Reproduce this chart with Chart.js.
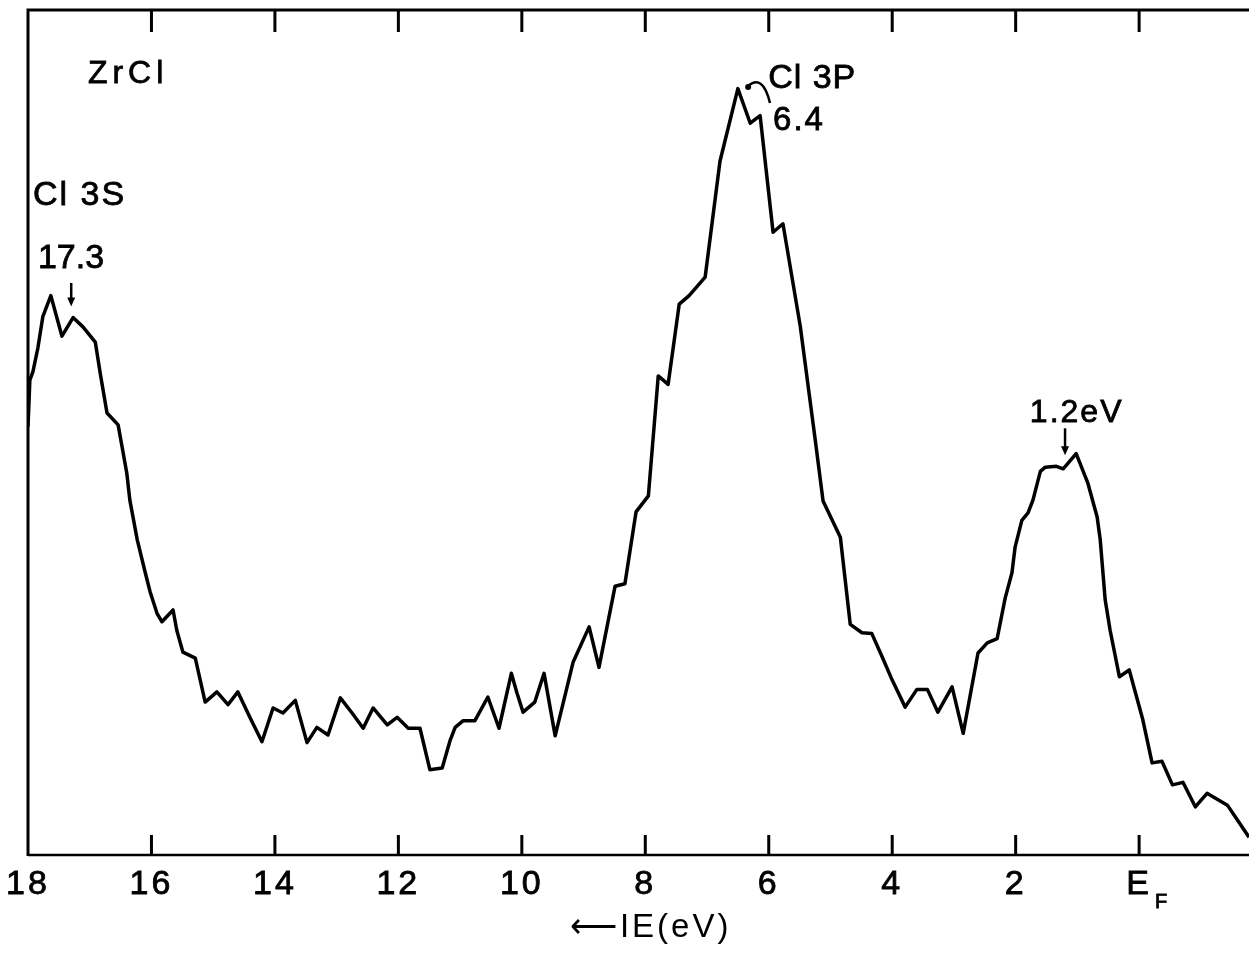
<!DOCTYPE html>
<html>
<head>
<meta charset="utf-8">
<script src="https://cdn.jsdelivr.net/npm/chart.js@4.4.0/dist/chart.umd.min.js"></script>
<style>
html,body{margin:0;padding:0;background:#fff;}
canvas{display:block;}
</style>
</head>
<body>
<canvas id="c" width="1249" height="955"></canvas>
<script>
// ---- data ----
const energyEV = [
  18.0, 17.97, 17.92, 17.84, 17.76, 17.63, 17.45, 17.27, 17.11, 16.91,
  16.83, 16.72, 16.54, 16.40, 16.35, 16.23, 16.10, 16.02, 15.91, 15.83,
  15.65, 15.59, 15.49, 15.29, 15.13, 14.94, 14.76, 14.60, 14.40, 14.21,
  14.03, 13.87, 13.67, 13.48, 13.32, 13.14, 12.94, 12.75, 12.57, 12.41,
  12.18, 12.02, 11.84, 11.65, 11.49, 11.29, 11.16, 11.08, 10.95, 10.76,
  10.55, 10.37, 10.17, 10.08, 9.98, 9.79, 9.64, 9.46, 9.17, 8.91,
  8.75, 8.49, 8.33, 8.15, 7.95, 7.79, 7.63, 7.45, 7.29, 7.03,
  6.79, 6.50, 6.30, 6.14, 5.93, 5.77, 5.49, 5.25, 5.12, 4.84,
  4.68, 4.49, 4.33, 4.16, 4.00, 3.79, 3.60, 3.43, 3.26, 3.03,
  2.85, 2.61, 2.46, 2.30, 2.17, 2.06, 2.01, 1.90, 1.80, 1.72,
  1.60, 1.52, 1.34, 1.23, 1.02, 0.83, 0.68, 0.63, 0.55, 0.47,
  0.32, 0.16, -0.06, -0.21, -0.37, -0.54, -0.71, -0.91, -1.10, -1.43, -1.78
];
const intensity = [
  50.7, 56.2, 57.2, 60.0, 63.7, 66.2, 61.4, 63.6, 62.5, 60.7,
  57.0, 52.3, 50.9, 45.2, 42.0, 37.3, 33.4, 31.1, 28.6, 27.6,
  29.0, 26.6, 24.0, 23.3, 18.1, 19.3, 17.8, 19.3, 16.2, 13.4,
  17.4, 16.8, 18.3, 13.3, 15.1, 14.2, 18.6, 16.8, 15.0, 17.4,
  15.4, 16.3, 15.0, 15.0, 10.1, 10.3, 13.6, 15.1, 15.9, 15.9,
  18.7, 15.0, 21.5, 19.2, 16.9, 18.1, 21.5, 14.1, 22.8, 27.0,
  22.2, 31.8, 32.1, 40.6, 42.5, 56.7, 55.7, 65.2, 66.2, 68.4,
  82.1, 90.7, 86.6, 87.5, 73.7, 74.7, 62.6, 49.3, 41.9, 37.6,
  27.3, 26.3, 26.2, 23.4, 20.7, 17.5, 19.6, 19.6, 16.9, 19.9,
  14.4, 23.9, 25.1, 25.6, 30.4, 33.4, 36.4, 39.6, 40.5, 42.0,
  45.4, 45.9, 46.0, 45.7, 47.5, 44.0, 40.0, 37.3, 30.2, 26.6,
  21.1, 21.9, 16.0, 10.9, 11.1, 8.3, 8.6, 5.7, 7.3, 5.9, 2.1
];
const tickValues = [0, 2, 4, 6, 8, 10, 12, 14, 16, 18];
const tickLabels = ['E', '2', '4', '6', '8', '10', '12', '14', '16', '18'];
const axisTitle = '  \u27F5IE(eV)';
const peakLabels = ['ZrCl', 'Cl 3S', '17.3', 'Cl 3P', '6.4', '1.2eV'];

// ---- annotation placement (data coordinates) ----
const textPlacement = [
  {e: 17.03, v: 91.4, size: 32, spacing: 5},
  {e: 17.92, v: 76.9, size: 34, spacing: 2},
  {e: 17.84, v: 69.5, size: 34, spacing: 0},
  {e: 6.01, v: 90.8, size: 34, spacing: 1},
  {e: 5.93, v: 85.8, size: 33, spacing: 2},
  {e: 1.77, v: 51.2, size: 32, spacing: 2}
];
const arrows = [
  {e: 17.3, from: 67.7, to: 64.9},
  {e: 1.2, from: 50.5, to: 47.3}
];

const points = energyEV.map((e, i) => ({x: e, y: intensity[i]}));
const FONT = '"Liberation Sans", Arial, sans-serif';

const spacingPlugin = {
  id: 'spacing',
  beforeDraw(chart) { chart.ctx.letterSpacing = '3px'; },
  beforeDatasetsDraw(chart) { chart.ctx.letterSpacing = '0px'; }
};

const framePlugin = {
  id: 'frame',
  afterDraw(chart) {
    const {ctx, chartArea: {left, right, top, bottom}, scales: {x, y}} = chart;
    ctx.save();
    ctx.strokeStyle = '#000';
    ctx.fillStyle = '#000';
    ctx.lineCap = 'butt';
    // frame
    ctx.lineWidth = 3;
    ctx.beginPath();
    ctx.moveTo(left, bottom + 1);
    ctx.lineTo(left, top);
    ctx.lineTo(right, top);
    ctx.stroke();
    ctx.lineWidth = 2.5;
    ctx.beginPath();
    ctx.moveTo(left, bottom);
    ctx.lineTo(right, bottom);
    ctx.stroke();
    // inward ticks
    ctx.lineWidth = 3;
    tickValues.forEach(v => {
      const px = x.getPixelForValue(v);
      if (Math.abs(px - left) < 3) return;
      ctx.beginPath();
      ctx.moveTo(px, top); ctx.lineTo(px, top + 22);
      ctx.moveTo(px, bottom); ctx.lineTo(px, bottom - 20);
      ctx.stroke();
    });
    // subscript F of E_F
    const ef = x.getPixelForValue(0);
    ctx.font = '20px ' + FONT;
    ctx.textAlign = 'left';
    ctx.textBaseline = 'alphabetic';
    ctx.lineWidth = 0.8;
    ctx.fillText('F', ef + 16, bottom + 53);
    ctx.strokeText('F', ef + 16, bottom + 53);
    // peak labels
    peakLabels.forEach((t, i) => {
      const p = textPlacement[i];
      ctx.font = p.size + 'px ' + FONT;
      ctx.letterSpacing = p.spacing + 'px';
      const px = x.getPixelForValue(p.e), py = y.getPixelForValue(p.v);
      ctx.fillText(t, px, py);
      ctx.strokeText(t, px, py);
    });
    ctx.letterSpacing = '0px';
    // arrows
    ctx.lineWidth = 2.5;
    arrows.forEach(a => {
      const px = x.getPixelForValue(a.e);
      const y1 = y.getPixelForValue(a.from), y2 = y.getPixelForValue(a.to);
      ctx.beginPath(); ctx.moveTo(px, y1); ctx.lineTo(px, y2 - 6); ctx.stroke();
      ctx.beginPath(); ctx.moveTo(px - 4, y2 - 9); ctx.lineTo(px + 4, y2 - 9); ctx.lineTo(px, y2); ctx.closePath(); ctx.fill();
    });
    // curved pointer for the Cl 3P peak
    const sx = x.getPixelForValue(6.35), sy = y.getPixelForValue(90.9);
    const cx = x.getPixelForValue(6.10), cy = y.getPixelForValue(92.6);
    const ex = x.getPixelForValue(5.98), ey = y.getPixelForValue(89.0);
    ctx.beginPath(); ctx.moveTo(sx, sy); ctx.quadraticCurveTo(cx, cy, ex, ey); ctx.stroke();
    ctx.beginPath(); ctx.arc(sx + 1, sy, 3, 0, Math.PI * 2); ctx.fill();
    ctx.restore();
  }
};

new Chart(document.getElementById('c'), {
  type: 'line',
  data: {
    datasets: [{
      data: points,
      borderColor: '#000',
      borderWidth: 3.5,
      pointRadius: 0,
      tension: 0,
      fill: false,
      borderJoinStyle: 'round'
    }]
  },
  options: {
    responsive: false,
    animation: false,
    devicePixelRatio: 1,
    layout: {padding: {left: 28, top: 10, right: 0, bottom: 0}},
    plugins: {legend: {display: false}, tooltip: {enabled: false}},
    scales: {
      x: {
        type: 'linear',
        reverse: true,
        min: -1.78,
        max: 18,
        afterBuildTicks: (scale) => { scale.ticks = tickValues.map(v => ({value: v})); },
        afterFit: (scale) => { scale.height = 100; },
        grid: {display: false, drawTicks: false},
        border: {display: false},
        ticks: {
          color: '#000',
          padding: 13,
          maxRotation: 0,
          autoSkip: false,
          textStrokeColor: '#000',
          textStrokeWidth: 0.8,
          font: {family: FONT, size: 34, lineHeight: 1},
          callback: (value) => { const i = tickValues.indexOf(value); return i >= 0 ? tickLabels[i] : ''; }
        },
        title: {
          display: true,
          text: axisTitle,
          color: '#000',
          font: {family: FONT, size: 33, lineHeight: 1},
          padding: {top: 0, bottom: 11}
        }
      },
      y: {
        display: false,
        min: 0,
        max: 100
      }
    }
  },
  plugins: [spacingPlugin, framePlugin]
});
</script>
</body>
</html>
